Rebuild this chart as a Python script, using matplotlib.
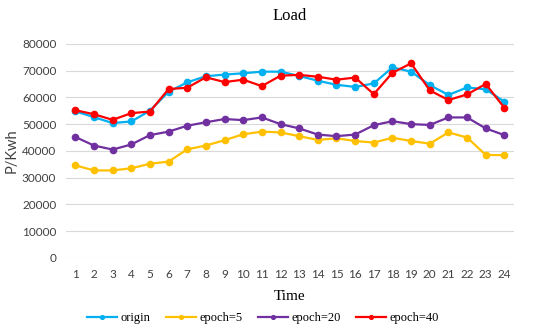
import matplotlib

matplotlib.use("Agg")
import matplotlib.pyplot as plt

# -------- Data --------
hours = list(range(1, 25))
origin = [54800, 52600, 50400, 51000, 55000, 62100, 65600, 67900, 68500, 69000,
          69600, 69600, 68000, 66200, 64700, 63900, 65200, 71200, 69600, 64600,
          60900, 63700, 63000, 58400]
epoch5 = [34600, 32700, 32700, 33500, 35200, 36000, 40600, 42000, 44000, 46200,
          47200, 46900, 45500, 44100, 44700, 43700, 43100, 44900, 43700, 42700,
          46900, 45000, 38500, 38400]
epoch20 = [45200, 42000, 40500, 42400, 45900, 47200, 49400, 50700, 51900, 51500,
           52500, 50000, 48400, 46100, 45500, 46100, 49600, 51100, 50000, 49700,
           52500, 52500, 48400, 45900]
epoch40 = [55200, 53700, 51600, 54100, 54700, 63100, 63600, 67500, 65700, 66600,
           64200, 68100, 68400, 67700, 66600, 67400, 61200, 69200, 72700, 62600,
           59000, 61100, 65000, 56100]
series_names = ["origin", "epoch=5", "epoch=20", "epoch=40"]
series_colors = ["#00B0F0", "#FFC000", "#7030A0", "#FF0000"]
yticks = list(range(0, 80001, 10000))

# -------- Plot --------
fig = plt.figure(figsize=(5.5, 3.32), dpi=100)
ax = fig.add_axes([0.12, 0.223, 0.814, 0.645])

for vals, name, col in zip([origin, epoch5, epoch20, epoch40], series_names, series_colors):
    ax.plot(hours, vals, color=col, lw=1.6, marker="o", ms=4.5, label=name)

ax.set_xlim(0.5, 24.5)
ax.set_ylim(0, 80000)
ax.set_xticks(hours)
ax.set_yticks(yticks)
ax.yaxis.grid(True, color="#D9D9D9", lw=0.8)
ax.set_axisbelow(True)
for s in ax.spines.values():
    s.set_visible(False)
ax.tick_params(length=0, labelsize=8.5, labelcolor="#404040")
ax.tick_params(axis="x", pad=8)
ax.tick_params(axis="y", pad=7)
for lab in ax.get_xticklabels() + ax.get_yticklabels():
    lab.set_family("Lato")

ax.set_title("Load", family="Liberation Serif", fontsize=12, pad=17)
ax.set_xlabel("Time", family="Liberation Serif", fontsize=11, labelpad=7)
ax.set_ylabel("P/Kwh", family="Lato", fontsize=10.5, color="#404040")
ax.yaxis.set_label_coords(-0.105, 0.5)

ax.legend(loc="upper center", bbox_to_anchor=(0.44, -0.2), ncol=4, frameon=False,
          prop={"family": "Liberation Serif", "size": 9}, markerscale=0.6,
          handlelength=2.4, handletextpad=0.3, columnspacing=1.2)

fig.savefig("out.png", dpi=100)
